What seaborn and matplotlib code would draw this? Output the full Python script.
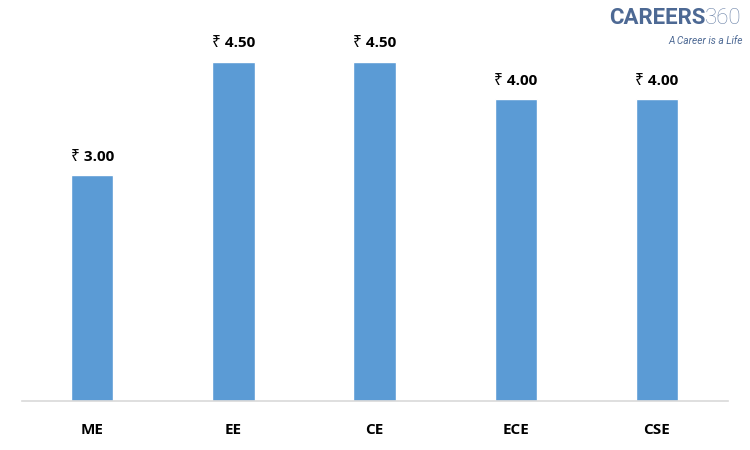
import matplotlib
matplotlib.use("Agg")
import matplotlib.pyplot as plt
import seaborn as sns
import pandas as pd

# Valores (lakhs ₹)
branches = ["ME", "EE", "CE", "ECE", "CSE"]
salary = [3.00, 4.50, 4.50, 4.00, 4.00]

df = pd.DataFrame({"branch": branches, "salary": salary})

sns.set_style("white")
plt.rcParams["font.family"] = ["Open Sans", "Noto Sans", "DejaVu Sans"]

fig = plt.figure(figsize=(7.5, 4.5), dpi=100)
ax = fig.add_axes([0.029, 0.109, 0.941, 0.838])

sns.barplot(data=df, x="branch", y="salary", color="#5B9BD5", width=0.3,
            saturation=1, ax=ax)

ax.set_ylim(0, 5)
ax.set_xlim(-0.5, len(branches) - 0.5)
ax.set_xlabel("")
ax.set_ylabel("")
ax.set_yticks([])

for i, v in enumerate(salary):
    ax.annotate(f"₹ {v:.2f}", (i, v), xytext=(0, 8), textcoords="offset points",
                ha="center", va="bottom", fontsize=11, fontweight="bold",
                color="black")

ax.tick_params(axis="x", length=0, pad=16, labelsize=11, labelcolor="black")
for lbl in ax.get_xticklabels():
    lbl.set_fontweight("bold")

for side in ["top", "right", "left"]:
    ax.spines[side].set_visible(False)
ax.spines["bottom"].set_color("#d9d9d9")
ax.spines["bottom"].set_linewidth(1.2)

# Logo
fig.text(0.94, 0.96, "CAREERS", ha="right", va="center", fontsize=16,
         fontweight="bold", color="#4d6994", family=["Roboto", "DejaVu Sans"])
fig.text(0.94, 0.96, "360", ha="left", va="center", fontsize=16,
         fontweight="light", color="#6f86aa", family=["Roboto", "DejaVu Sans"])
fig.text(0.99, 0.91, "A Career is a Life", ha="right", va="center", fontsize=7.3,
         style="italic", color="#4d6994", family=["Roboto", "DejaVu Sans"])

fig.savefig("out.png", dpi=100, facecolor="white")
